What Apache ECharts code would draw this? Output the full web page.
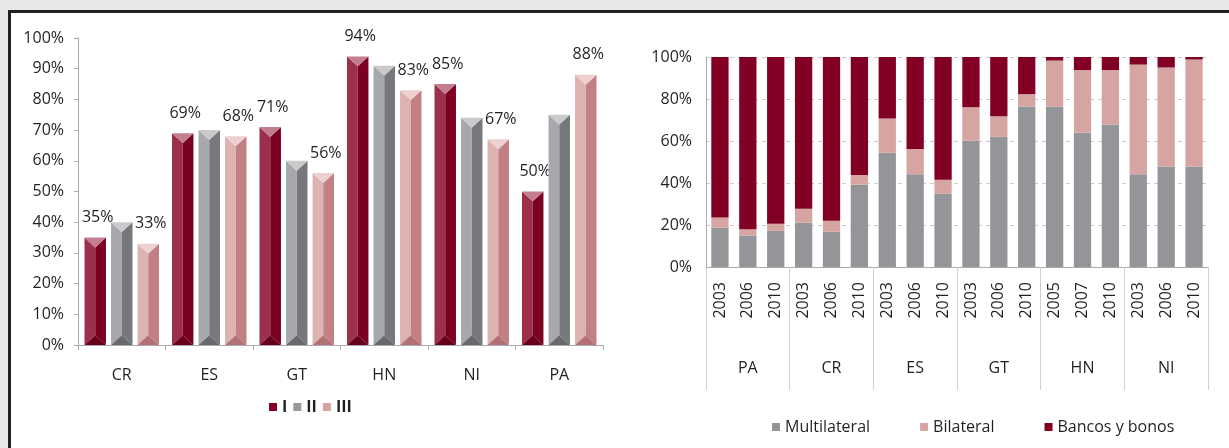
<!DOCTYPE html>
<html>
<head>
<meta charset="utf-8">
<script src="https://cdn.jsdelivr.net/npm/echarts@6/dist/echarts.min.js"></script>
<style>
  html, body { margin: 0; padding: 0; background: #e6e7e9; }
  #chart { width: 1229px; height: 448px; }
</style>
</head>
<body>
<div id="chart"></div>
<script>
// ---- Left panel: share per country in three periods ----
const countries = ['CR', 'ES', 'GT', 'HN', 'NI', 'PA'];
const periodNames = ['I', 'II', 'III'];
const periodI = [35, 69, 71, 94, 85, 50];
const periodII = [40, 70, 60, 91, 74, 75];
const periodIII = [33, 68, 56, 83, 67, 88];

// ---- Right panel: composition of financing by source ----
const groups = ['PA', 'CR', 'ES', 'GT', 'HN', 'NI'];
const years = ['2003', '2006', '2010', '2003', '2006', '2010', '2003', '2006', '2010',
               '2003', '2006', '2010', '2005', '2007', '2010', '2003', '2006', '2010'];
const sourceNames = ['Multilateral', 'Bilateral', 'Bancos y bonos'];
const multilateral = [18.7, 15.0, 17.2, 21.2, 16.9, 39.2, 54.4, 44.2, 35.0,
                      60.1, 62.0, 76.4, 76.3, 63.9, 67.7, 44.2, 47.8, 47.8];
const bilateral = [4.9, 3.0, 3.4, 6.5, 5.1, 4.6, 16.3, 12.0, 6.6,
                   16.0, 9.8, 5.9, 22.0, 29.9, 26.1, 52.2, 47.2, 51.0];
const bancos = [76.4, 82.0, 79.4, 72.3, 78.0, 56.2, 29.3, 43.8, 58.4,
                23.9, 28.2, 17.7, 1.7, 6.2, 6.2, 3.6, 5.0, 1.2];

const FONT = '"Open Sans", "Noto Sans", sans-serif';
const INK = '#231f20';
const AXIS = '#a9abae';

// bevelled column faces for each period
const shades = [
  { top: '#c27e8f', left: '#9c2f4c', right: '#7b0021', bottom: '#68001b', key: '#800020' },
  { top: '#c9cacc', left: '#a7a8ab', right: '#77787b', bottom: '#68696c', key: '#98999c' },
  { top: '#edd1d0', left: '#ddb3b2', right: '#c38084', bottom: '#b47175', key: '#d6a5a2' }
];
const BAR_W = 0.245, BAR_GAP = 0.058;

function bevelBar(k, shade, labelled) {
  return function (params, api) {
    const idx = api.value(0), v = api.value(1);
    const base = api.coord([idx, 0]);
    const tip = api.coord([idx, v]);
    const cw = api.size([1, 0])[0];
    const w = cw * BAR_W, g = cw * BAR_GAP;
    const x0 = base[0] - (3 * w + 2 * g) / 2 + k * (w + g);
    const x1 = x0 + w, xm = x0 + w / 2;
    const yT = tip[1], yB = base[1];
    const d = Math.min(w * 0.46, (yB - yT) / 2);
    const poly = (pts, fill) => ({ type: 'polygon', shape: { points: pts }, style: { fill: fill } });
    const children = [
      poly([[x0, yT], [xm, yT + d], [xm, yB - d], [x0, yB]], shade.left),
      poly([[xm, yT + d], [x1, yT], [x1, yB], [xm, yB - d]], shade.right),
      poly([[x0, yT], [x1, yT], [xm, yT + d]], shade.top),
      poly([[x0, yB], [xm, yB - d], [x1, yB]], shade.bottom)
    ];
    if (labelled) {
      children.push({
        type: 'text', x: xm + 2.5, y: yT - 20,
        style: { text: v + '%', fontSize: 16, fontFamily: FONT, fill: INK,
                 align: 'center', verticalAlign: 'middle' }
      });
    }
    return { type: 'group', children: children };
  };
}

const periodSeries = [periodI, periodII, periodIII].map((vals, k) => ({
  name: periodNames[k],
  type: 'custom',
  xAxisIndex: 0,
  yAxisIndex: 0,
  itemStyle: { color: shades[k].key },
  encode: { x: 0, y: 1 },
  data: vals.map((v, i) => [i, v]),
  renderItem: bevelBar(k, shades[k], k !== 1)
}));

const sourceColors = ['#939598', '#d6a5a1', '#810024'];
const sourceSeries = [multilateral, bilateral, bancos].map((vals, k) => ({
  name: sourceNames[k],
  type: 'bar',
  stack: 'fuentes',
  xAxisIndex: 1,
  yAxisIndex: 1,
  barCategoryGap: '38%',
  itemStyle: { color: sourceColors[k] },
  data: vals
}));

const chart = echarts.init(document.getElementById('chart'), null, { renderer: 'canvas' });
chart.setOption({
  animation: false,
  backgroundColor: '#e6e7e9',
  textStyle: { fontFamily: FONT },
  graphic: [{
    type: 'rect', z: -1, silent: true,
    shape: { x: 9.5, y: 11.5, width: 1260, height: 470 },
    style: { fill: '#ffffff', stroke: INK, lineWidth: 3 }
  }],
  legend: [
    {
      data: periodNames, left: 269, top: 399, padding: 0, icon: 'rect',
      itemWidth: 8, itemHeight: 8, itemGap: 6,
      textStyle: { fontSize: 16, fontWeight: 'bold', color: INK, fontFamily: FONT }
    },
    {
      data: sourceNames, left: 772, top: 419, padding: 0, icon: 'rect',
      itemWidth: 8, itemHeight: 8, itemGap: 50,
      textStyle: { fontSize: 16, color: INK, fontFamily: FONT }
    }
  ],
  grid: [
    { left: 78, top: 38, width: 525, height: 307 },
    { left: 706, top: 57, width: 502, height: 210 }
  ],
  xAxis: [
    {
      gridIndex: 0, type: 'category', data: countries,
      axisLine: { show: true, lineStyle: { color: AXIS } },
      axisTick: { show: true, length: 5, lineStyle: { color: AXIS } },
      axisLabel: { margin: 22, fontSize: 16, color: INK, fontFamily: FONT }
    },
    {
      gridIndex: 1, type: 'category', data: years,
      axisLine: { show: true, lineStyle: { color: AXIS } },
      axisTick: { show: false },
      axisLabel: { interval: 0, rotate: 90, margin: 15, fontSize: 16, color: INK, fontFamily: FONT }
    },
    {
      gridIndex: 1, type: 'category', data: groups, position: 'bottom',
      axisLine: { show: false },
      axisTick: { show: true, interval: 0, length: 123, lineStyle: { color: '#cfd0d2' } },
      axisLabel: { interval: 0, margin: 93, fontSize: 16, color: INK, fontFamily: FONT }
    }
  ],
  yAxis: [
    {
      gridIndex: 0, type: 'value', min: 0, max: 100, interval: 10,
      axisLine: { show: true, lineStyle: { color: AXIS } },
      axisTick: { show: true, length: 4, lineStyle: { color: AXIS } },
      splitLine: { show: false },
      axisLabel: { formatter: '{value}%', margin: 14, fontSize: 16, color: INK, fontFamily: FONT }
    },
    {
      gridIndex: 1, type: 'value', min: 0, max: 100, interval: 20,
      axisLine: { show: true, lineStyle: { color: AXIS } },
      axisTick: { show: false },
      splitLine: { show: true, lineStyle: { color: '#cbcbcd', type: [4, 4] } },
      axisLabel: { formatter: '{value}%', margin: 14, fontSize: 16, color: INK, fontFamily: FONT }
    }
  ],
  series: periodSeries.concat(sourceSeries)
});
</script>
</body>
</html>
